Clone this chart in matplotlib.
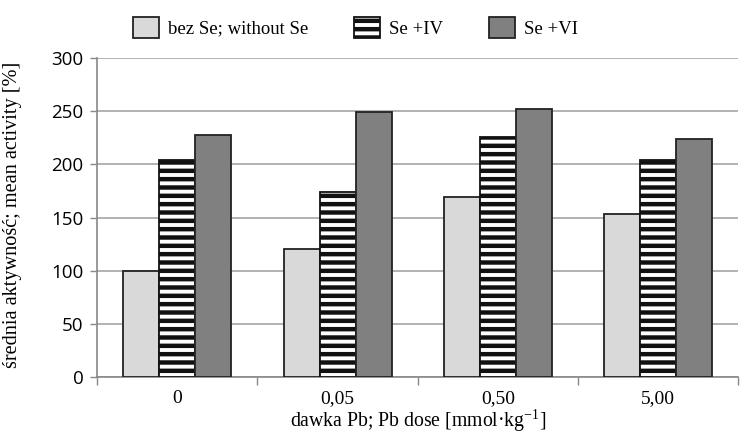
import matplotlib
matplotlib.use("Agg")
import matplotlib.pyplot as plt
import numpy as np

# data
doses = ["0", "0,05", "0,50", "5,00"]
series_names = ["bez Se; without Se", "Se +IV", "Se +VI"]
without_se = [100, 120, 169, 153]
se_iv = [204, 174, 226, 204]
se_vi = [228, 249, 252, 224]
y_ticks = [0, 50, 100, 150, 200, 250, 300]

plt.rcParams["hatch.linewidth"] = 3.2
plt.rcParams["hatch.color"] = "black"
serif = "Liberation Serif"

fig = plt.figure(figsize=(7.42, 4.36), dpi=100)
ax = fig.add_axes([0.131, 0.135, 0.864, 0.732])

x = np.arange(len(doses))
w = 0.225
styles = [
    dict(facecolor="#d9d9d9", edgecolor="#222222"),
    dict(facecolor="white", edgecolor="#111111", hatch="--"),
    dict(facecolor="#808080", edgecolor="#222222"),
]
for i, (vals, st) in enumerate(zip([without_se, se_iv, se_vi], styles)):
    ax.bar(x + (i - 1) * w, vals, width=w, linewidth=1.3,
           label=series_names[i], zorder=3, **st)

ax.set_xlim(-0.5, len(doses) - 0.5)
ax.set_ylim(0, 300)
ax.set_yticks(y_ticks)
ax.set_yticklabels([str(t) for t in y_ticks], fontfamily="Open Sans", fontsize=13.5)
ax.yaxis.grid(True, color="#a6a6a6", linewidth=1.2, zorder=0)
ax.set_axisbelow(True)

# category labels centred, ticks on the boundaries
ax.set_xticks(np.arange(-0.5, len(doses), 1.0))
ax.set_xticklabels([])
ax.set_xticks(x, minor=True)
ax.set_xticklabels(doses, minor=True, fontfamily=serif, fontsize=14)
ax.tick_params(axis="x", which="minor", length=0, pad=9)
ax.tick_params(axis="x", which="major", length=6, color="#888888", width=1)
ax.tick_params(axis="y", length=5, color="#888888", width=1, pad=5)

for s in ["top", "right"]:
    ax.spines[s].set_visible(False)
for s in ["left", "bottom"]:
    ax.spines[s].set_color("#888888")
    ax.spines[s].set_linewidth(1.2)

ax.set_ylabel("średnia aktywność; mean activity [%]", fontfamily=serif,
              fontsize=14.6)
ax.yaxis.set_label_coords(-0.118, 0.508)
ax.set_xlabel("dawka Pb; Pb dose [mmol·kg$^{\\mathregular{-1}}$]",
              fontfamily=serif, fontsize=14.2, labelpad=0)

fig.legend(loc="center", bbox_to_anchor=(0.479, 0.937), ncol=3, frameon=False,
           prop={"family": serif, "size": 13.5}, handlelength=1.38,
           handleheight=1.38, columnspacing=2.45, handletextpad=0.48)

fig.savefig("out.png", dpi=100)
